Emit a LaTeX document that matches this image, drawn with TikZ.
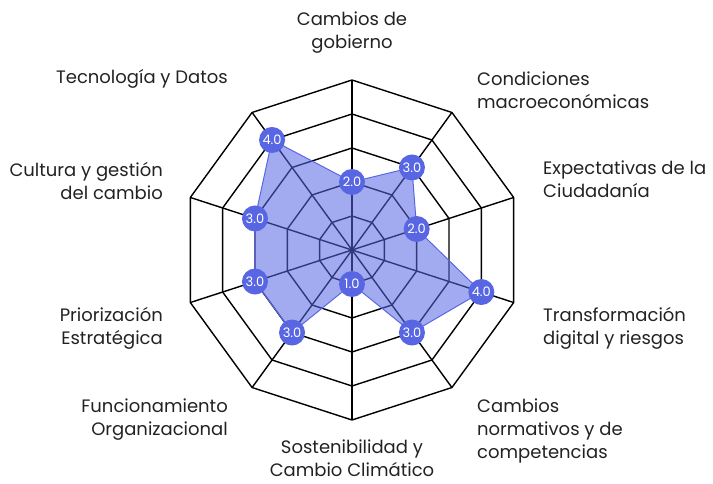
\documentclass[tikz,border=0pt]{standalone}
\usepackage{fontspec}
\setmainfont{Poppins}
\definecolor{dotblue}{RGB}{88,102,228}
\definecolor{inkgray}{RGB}{34,34,34}
\begin{document}
\begin{tikzpicture}[
  x=1pt, y=1pt,
  grid/.style={draw=black, line width=1.4pt, line join=round},
  area/.style={fill=dotblue, fill opacity=0.55, draw=dotblue, line width=1pt},
  val/.style={circle, fill=dotblue, text=white, minimum size=26pt, inner sep=0pt, font=\fontsize{13}{13}\selectfont},
  lbl/.style={text=inkgray, inner sep=0pt, font=\fontsize{18}{23}\selectfont}
]
\useasboundingbox (-352,-233) rectangle (361,250);
\coordinate (c) at (0,0);

% Axes and rings
\foreach \i in {0,...,9}
  \coordinate (ax\i) at (90-36*\i:170);
\foreach \r in {1,...,5}
  \draw[grid] (90:34*\r) \foreach \a in {1,...,9} {-- (90-36*\a:34*\r)} -- cycle;
\foreach \i in {0,...,9}
  \draw[grid] (c) -- (ax\i);

% Scores
\foreach \v [count=\i from 0] in {2,3,2,4,3,1,3,3,3,4}
  \coordinate (p\i) at (90-36*\i:34*\v);
\draw[area] (p0) -- (p1) -- (p2) -- (p3) -- (p4) -- (p5) -- (p6) -- (p7) -- (p8) -- (p9) -- cycle;
\foreach \v [count=\i from 0] in {2,3,2,4,3,1,3,3,3,4}
  \node[val] (v\i) at (p\i) {\v.0};

% Labels
\node[lbl, align=center] (gob) at (0,217) {Cambios de\\gobierno};
\node[lbl, align=left, anchor=west] (macro) at (125,160) {Condiciones\\macroeconómicas};
\node[lbl, align=left, anchor=west] (ciud) at (191,71) {Expectativas de la\\Ciudadanía};
\node[lbl, align=left, anchor=west] (digi) at (191,-78) {Transformación\\digital y riesgos};
\node[lbl, align=left, anchor=west] (norm) at (125,-181) {Cambios\\normativos y de\\competencias};
\node[lbl, align=center] (sost) at (0,-208) {Sostenibilidad y\\Cambio Climático};
\node[lbl, align=right, anchor=east] (func) at (-124,-170) {Funcionamiento\\Organizacional};
\node[lbl, align=right, anchor=east] (prio) at (-189,-78) {Priorización\\Estratégica};
\node[lbl, align=right, anchor=east] (cult) at (-189,69) {Cultura y gestión\\del cambio};
\node[lbl, anchor=east] (tec) at (-124,171) {Tecnología y Datos};

\end{tikzpicture}
\end{document}
